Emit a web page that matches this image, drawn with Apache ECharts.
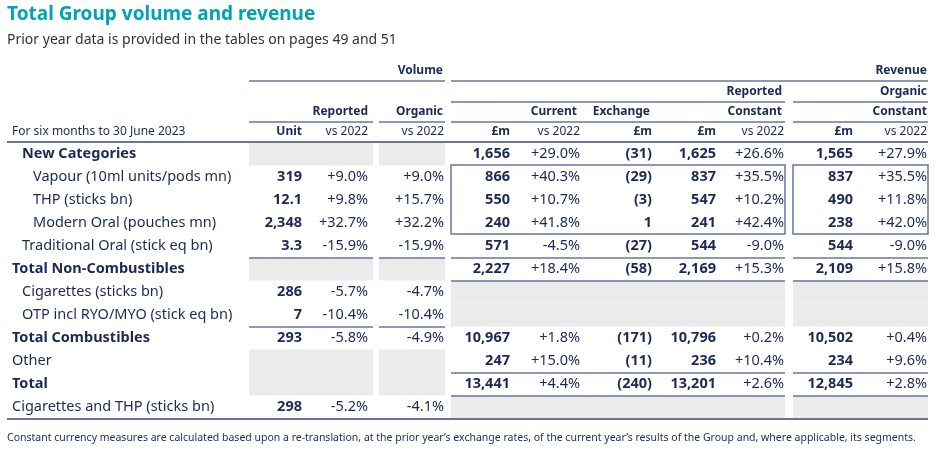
<!DOCTYPE html>
<html>
<head>
<meta charset="utf-8">
<script src="https://cdn.jsdelivr.net/npm/echarts@6/dist/echarts.min.js"></script>
<style>html,body{margin:0;padding:0;background:#fff}#main{width:936px;height:450px}</style>
</head>
<body>
<div id="main"></div>
<script>
// table data
var rowLabels = ['New Categories','Vapour (10ml units/pods mn)','THP (sticks bn)','Modern Oral (pouches mn)','Traditional Oral (stick eq bn)','Total Non-Combustibles','Cigarettes (sticks bn)','OTP incl RYO/MYO (stick eq bn)','Total Combustibles','Other','Total','Cigarettes and THP (sticks bn)'];
var rowIndent = [22,33,33,33,22,12,22,22,12,12,12,12];
var rowBold = [1,0,0,0,0,1,0,0,1,0,1,0];
var volUnit = ['','319','12.1','2,348','3.3','','286','7','293','','','298'];
var volRep = ['','+9.0%','+9.8%','+32.7%','-15.9%','','-5.7%','-10.4%','-5.8%','','','-5.2%'];
var volOrg = ['','+9.0%','+15.7%','+32.2%','-15.9%','','-4.7%','-10.4%','-4.9%','','','-4.1%'];
var curM = ['1,656','866','550','240','571','2,227','','','10,967','247','13,441',''];
var curVs = ['+29.0%','+40.3%','+10.7%','+41.8%','-4.5%','+18.4%','','','+1.8%','+15.0%','+4.4%',''];
var exchM = ['(31)','(29)','(3)','1','(27)','(58)','','','(171)','(11)','(240)',''];
var constM = ['1,625','837','547','241','544','2,169','','','10,796','236','13,201',''];
var constVs = ['+26.6%','+35.5%','+10.2%','+42.4%','-9.0%','+15.3%','','','+0.2%','+10.4%','+2.6%',''];
var orgM = ['1,565','837','490','238','544','2,109','','','10,502','234','12,845',''];
var orgVs = ['+27.9%','+35.5%','+11.8%','+42.0%','-9.0%','+15.8%','','','+0.4%','+9.6%','+2.8%',''];

var navy = '#1c2957', lineC = '#69749a', grey = '#ebebeb';
var font = '"Noto Sans", sans-serif';
var groups = [[249,373],[379,445],[451,785],[793,928]];
var cols = [
  {data: volUnit, x: 302, bold: true},
  {data: volRep, x: 368, bold: false},
  {data: volOrg, x: 444, bold: false},
  {data: curM, x: 510, bold: true},
  {data: curVs, x: 580, bold: false},
  {data: exchM, x: 652, bold: true},
  {data: constM, x: 716, bold: true},
  {data: constVs, x: 784, bold: false},
  {data: orgM, x: 853, bold: true},
  {data: orgVs, x: 927, bold: false}
];
var y0 = 154, rh = 23;
var els = [];

function txt(s, x, y, o) {
  o = o || {};
  els.push({type: 'text', x: x, y: y, z: 10, style: {text: s, fill: o.fill || navy, font: (o.bold ? 'bold ' : '') + (o.size || 14) + 'px ' + font, textAlign: o.align || 'left', textVerticalAlign: 'middle'}});
}
function hline(x1, x2, y, w) {
  els.push({type: 'line', z: 5, shape: {x1: x1, y1: y, x2: x2, y2: y}, style: {stroke: lineC, lineWidth: w || 1.5}});
}
function cellBg(g, r) {
  var gr = groups[g];
  els.push({type: 'rect', z: 1, shape: {x: gr[0], y: y0 + r * rh - 11.5, width: gr[1] - gr[0], height: rh}, style: {fill: grey}});
}

// title
txt('Total Group volume and revenue', 7, 15, {bold: true, size: 19, fill: '#00a3b4'});
txt('Prior year data is provided in the tables on pages 49 and 51', 7, 40, {size: 14, fill: '#333'});

// header
txt('Volume', 443, 71, {bold: true, size: 12, align: 'right'});
txt('Revenue', 927, 71, {bold: true, size: 12, align: 'right'});
hline(249, 445, 81); hline(451, 928, 81);
txt('Reported', 782, 92, {bold: true, size: 12, align: 'right'});
txt('Organic', 927, 92, {bold: true, size: 12, align: 'right'});
hline(451, 785, 102); hline(793, 928, 102);
txt('Reported', 368, 112, {bold: true, size: 12, align: 'right'});
txt('Organic', 443, 112, {bold: true, size: 12, align: 'right'});
txt('Current', 577, 112, {bold: true, size: 12, align: 'right'});
txt('Exchange', 650, 112, {bold: true, size: 12, align: 'right'});
txt('Constant', 782, 112, {bold: true, size: 12, align: 'right'});
txt('Constant', 927, 112, {bold: true, size: 12, align: 'right'});
groups.forEach(function (g) { hline(g[0], g[1], 122); });
txt('For six months to 30 June 2023', 12, 132, {size: 12});
var sub = ['Unit','vs 2022','vs 2022','£m','vs 2022','£m','£m','vs 2022','£m','vs 2022'];
sub.forEach(function (s, i) {
  txt(s, cols[i].x, 132, {size: 12, bold: s !== 'vs 2022', align: 'right'});
});
hline(7, 928, 142, 2);

// shading
[0,5,9,10].forEach(function (r) { cellBg(0, r); cellBg(1, r); });
[6,7,11].forEach(function (r) { cellBg(2, r); cellBg(3, r); });

// row separators
[4,7].forEach(function (r) { hline(249, 373, y0 + r * rh + 12); hline(379, 445, y0 + r * rh + 12); });
[4,5,9,10].forEach(function (r) { hline(451, 785, y0 + r * rh + 12); hline(793, 928, y0 + r * rh + 12); });

// boxes around new-category sub rows
[2,3].forEach(function (g) {
  var gr = groups[g];
  els.push({type: 'rect', z: 6, shape: {x: gr[0], y: y0 + rh - 12, width: gr[1] - gr[0], height: rh * 3}, style: {fill: 'none', stroke: lineC, lineWidth: 1.5}});
});

// rows
rowLabels.forEach(function (lab, r) {
  var y = y0 + r * rh;
  txt(lab, rowIndent[r], y, {bold: !!rowBold[r], size: 14.5});
  cols.forEach(function (c) {
    if (c.data[r]) txt(c.data[r], c.x, y, {bold: c.bold, size: 14.5, align: 'right'});
  });
});
hline(7, 928, y0 + 11 * rh + 12, 2);

txt('Constant currency measures are calculated based upon a re-translation, at the prior year\u2019s exchange rates, of the current year\u2019s results of the Group and, where applicable, its segments.', 7, 438, {size: 10.5});

var chart = echarts.init(document.getElementById('main'));
chart.setOption({graphic: {elements: els}});
</script>
</body>
</html>
